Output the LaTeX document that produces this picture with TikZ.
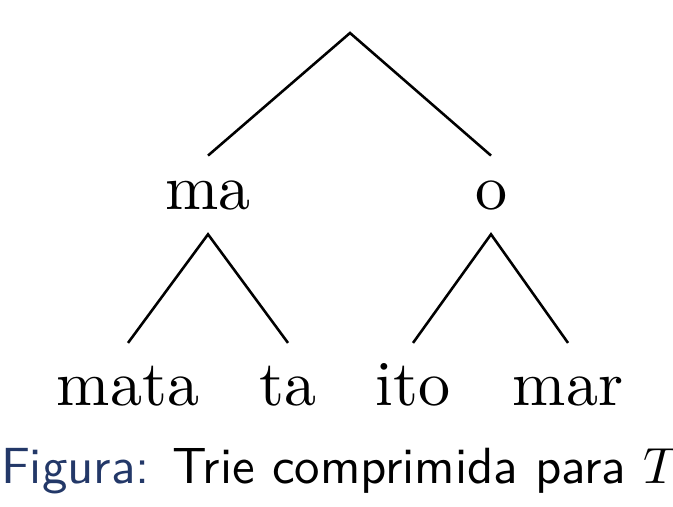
\documentclass[tikz,border=0pt]{standalone}
\definecolor{capblue}{RGB}{35,56,104}
\begin{document}
\begin{tikzpicture}[x=0.15625pt,y=-0.15625pt,
  edge/.style={line width=0.4pt},
  mid/.style={inner sep=0pt,anchor=base,text height=8.3pt,text depth=3.6pt,font=\fontsize{10}{12}\selectfont},
  leaf/.style={inner sep=0pt,anchor=base,text height=9.5pt,text depth=0pt,font=\fontsize{10}{12}\selectfont},
  captext/.style={inner sep=0pt,anchor=base west,scale=0.795,transform shape,font=\fontsize{10}{12}\selectfont\sffamily}]
\useasboundingbox (0,0) rectangle (673,507);
\coordinate (root) at (350,33);
\node[mid] (ma) at (208,210) {ma};
\node[mid] (o) at (491,210) {o};
\node[leaf] (mata) at (128,405) {mata};
\node[leaf] (ta) at (288,405) {ta};
\node[leaf] (ito) at (413,405) {ito};
\node[leaf] (mar) at (568,405) {mar};
\draw[edge] (ma.north) -- (root) -- (o.north);
\draw[edge] (mata.north) -- (ma.south) -- (ta.north);
\draw[edge] (ito.north) -- (o.south) -- (mar.north);
\node[captext] (caption) at (0,483) {\textcolor{capblue}{Figura:} Trie comprimida para $T$};
\end{tikzpicture}
\end{document}
